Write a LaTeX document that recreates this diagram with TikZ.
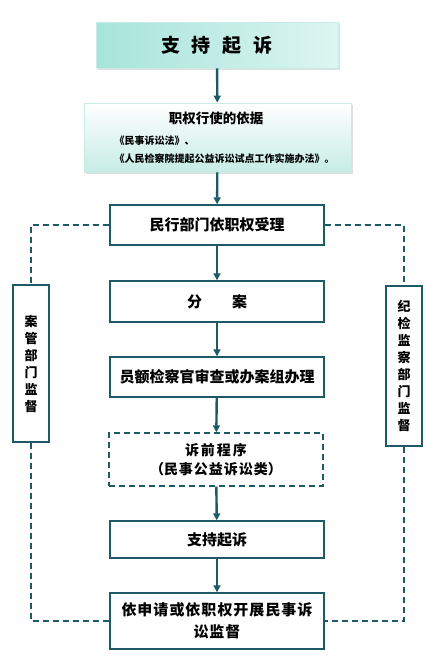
\documentclass[tikz,border=0pt]{standalone}
\usepackage{fontspec}
\newfontfamily\cjk{Noto Sans CJK SC}
\usepackage{tikz}
\usetikzlibrary{positioning,arrows.meta,shadows}
\definecolor{tealline}{HTML}{1D5A66}
\definecolor{mintA}{HTML}{A6E4DA}
\definecolor{mintB}{HTML}{DDF5F1}
\definecolor{mintC}{HTML}{C6ECE5}

\begin{document}
\begin{tikzpicture}[x=1pt,y=-1pt,font=\cjk\bfseries,>={Triangle[length=7pt,width=7pt]},
  stepbox/.style={draw=tealline,line width=1.4pt,fill=white,minimum width=214pt,align=center,inner sep=0pt},
  sidebox/.style={draw=tealline,line width=1.4pt,fill=white,minimum width=36pt,align=center,inner sep=0pt,font=\cjk\bfseries\fontsize{13}{17}\selectfont},
  flow/.style={->,tealline,line width=2.4pt},
  watch/.style={tealline,line width=1.4pt,dash pattern=on 6pt off 4pt}]
\useasboundingbox (0,0) rectangle (430,667);
% ---------------- upper boxes with shading ----------------
\node[draw=mintC,line width=0.8pt,left color=mintA,right color=mintB,minimum width=242pt,minimum height=46pt,
  drop shadow={shadow xshift=1.5pt,shadow yshift=-1.5pt,opacity=0.25},font=\cjk\bfseries\fontsize{19}{22}\selectfont]
  (title) at (217,45) {支\hspace{12pt}持\hspace{12pt}起\hspace{12pt}诉};
\node[draw=mintC,line width=0.8pt,top color=white,bottom color=mintC,minimum width=267pt,minimum height=69pt,
  drop shadow={shadow xshift=1.5pt,shadow yshift=-1.5pt,opacity=0.25}] (basis) at (217.5,137.5) {};
\node[font=\cjk\bfseries\fontsize{13.5}{15}\selectfont] (basishead) at (216,118) {职权行使的依据};
\node[anchor=west,font=\cjk\bfseries\fontsize{10}{11}\selectfont] (law1) at (111,141) {《民事诉讼法》、};
\node[anchor=west,font=\cjk\bfseries\fontsize{10}{11}\selectfont] (law2) at (111,159) {《人民检察院提起公益诉讼试点工作实施办法》。};
% ---------------- main column ----------------
\node[stepbox,minimum height=40pt,font=\cjk\bfseries\fontsize{15}{18}\selectfont] (accept) at (217,225) {民行部门依职权受理};
\node[stepbox,minimum height=41pt,font=\cjk\bfseries\fontsize{15}{18}\selectfont] (divide) at (217,301.5) {分\hspace{30pt}案};
\node[stepbox,minimum height=40pt,font=\cjk\bfseries\fontsize{15}{18}\selectfont] (review) at (217,377) {员额检察官审查或办案组办理};
\node[stepbox,minimum height=53pt,dash pattern=on 6pt off 4pt,font=\cjk\bfseries\fontsize{14}{19.5}\selectfont] (prelit) at (216,459.5)
  {诉\hspace{2pt}前\hspace{2pt}程\hspace{2pt}序\\（民\hspace{1pt}事\hspace{1pt}公\hspace{1pt}益\hspace{1pt}诉\hspace{1pt}讼\hspace{1pt}类）};
\node[stepbox,minimum height=37pt,font=\cjk\bfseries\fontsize{15}{18}\selectfont] (support) at (217,539.5) {支持起诉};
\node[stepbox,minimum height=56pt,font=\cjk\bfseries\fontsize{15}{22}\selectfont] (monitor) at (217,621)
  {依\hspace{1pt}申\hspace{1pt}请\hspace{1pt}或\hspace{1pt}依\hspace{1pt}职\hspace{1pt}权\hspace{1pt}开\hspace{1pt}展\hspace{1pt}民\hspace{1pt}事\hspace{1pt}诉\\讼\hspace{1pt}监\hspace{1pt}督};
% ---------------- side boxes ----------------
\node[sidebox,minimum height=157pt] (casebox) at (31,363.5) {案\\管\\部\\门\\监\\督};
\node[sidebox,minimum height=160pt] (disciplinebox) at (404,366) {纪\\检\\监\\察\\部\\门\\监\\督};
% arrows
\draw[flow] (title) -- (basis);
\draw[flow] (basis) -- (accept);
\draw[flow] (accept) -- (divide);
\draw[flow] (divide) -- (review);
\draw[flow] (review) -- (prelit);
\draw[flow] (prelit) -- (support);
\draw[flow] (support) -- (monitor);
% dashed supervision lines
\draw[watch] (accept.west) -| (casebox.north);
\draw[watch] (casebox.south) |- (monitor.west);
\draw[watch] (accept.east) -| (disciplinebox.north);
\draw[watch] (disciplinebox.south) |- (monitor.east);
\end{tikzpicture}
\end{document}
